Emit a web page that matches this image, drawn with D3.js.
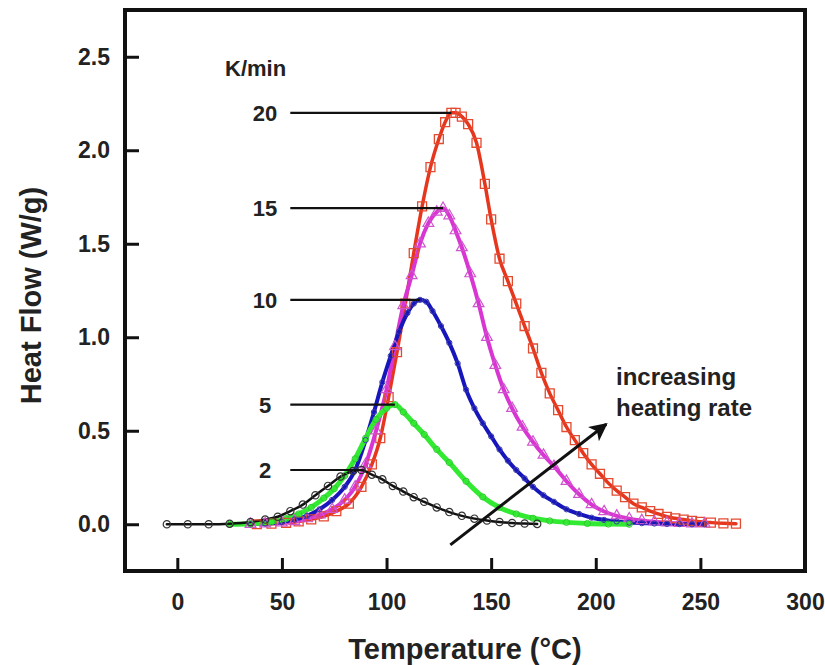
<!DOCTYPE html>
<html><head><meta charset="utf-8">
<script src="https://cdn.jsdelivr.net/npm/d3@7"></script>
<style>
html,body{margin:0;padding:0;background:#fff;}
text{font-family:Arial,"Liberation Sans",sans-serif;font-weight:bold;fill:#222;}
</style></head>
<body>
<svg id="chart" width="825" height="665"></svg>
<script>
// ---------- data ----------
const xTicks = [0, 50, 100, 150, 200, 250, 300];
const yTicks = [0.0, 0.5, 1.0, 1.5, 2.0, 2.5];
const rateLabels = ["20", "15", "10", "5", "2"];
const unitLabel = "K/min";
const xTitle = "Temperature (°C)";
const yTitle = "Heat Flow (W/g)";
const noteLines = ["increasing", "heating rate"];

// 2 K/min
const T2 = [-5,5,15,25,35,42,48,54,60,66,72,78,84,88,93,98,103,108,113,118,124,130,136,142,148,154,160,166,172];
const v2 = [0,0,0,0.003,0.012,0.025,0.04,0.07,0.105,0.155,0.205,0.255,0.285,0.29,0.265,0.24,0.205,0.175,0.145,0.12,0.09,0.065,0.045,0.03,0.02,0.012,0.007,0.004,0.002];
// 5 K/min
const T5 = [25,35,45,52,58,64,70,75,80,85,90,95,100,104,108,113,118,124,130,138,146,154,162,170,178,186,196,206,216];
const v5 = [0,0.003,0.012,0.03,0.055,0.09,0.14,0.19,0.26,0.35,0.46,0.56,0.62,0.64,0.6,0.54,0.48,0.40,0.33,0.23,0.146,0.09,0.055,0.032,0.018,0.01,0.004,0.001,0];
// 10 K/min
const T10 = [35,42,50,56,62,68,74,80,85,90,94,98,102,106,110,113,116,119,122,126,130,134,138,142,146,150,154,158,162,166,170,175,180,186,192,198,204,210,216,222,228,234,240,246,252];
const v10 = [0,0.004,0.012,0.025,0.045,0.08,0.13,0.2,0.29,0.45,0.6,0.76,0.9,1.03,1.13,1.18,1.2,1.19,1.14,1.06,0.97,0.86,0.72,0.62,0.54,0.47,0.40,0.34,0.29,0.245,0.2,0.155,0.12,0.08,0.055,0.035,0.023,0.015,0.009,0.006,0.004,0.002,0.001,0,0];
// 15 K/min
const T15 = [35,42,50,56,62,68,74,80,85,90,95,100,104,108,112,116,120,124,127,130,133,136,140,144,148,152,156,160,165,170,175,180,186,192,198,204,210,216,222,228,234,240,246,252];
const v15 = [0,0.003,0.008,0.015,0.03,0.05,0.08,0.13,0.2,0.32,0.5,0.72,0.95,1.17,1.33,1.5,1.61,1.67,1.69,1.65,1.57,1.48,1.34,1.18,1.0,0.85,0.72,0.62,0.52,0.44,0.37,0.31,0.23,0.16,0.105,0.068,0.045,0.03,0.02,0.013,0.008,0.005,0.003,0.002];
// 20 K/min
const T20 = [38,45,52,58,64,70,76,82,88,93,97,101,105,109,113,117,121,125,128,131,133,136,139,143,147,150,154,158,162,166,170,174,178,182,186,190,194,198,202,206,210,214,218,222,226,230,234,238,242,246,250,255,261,267];
const v20 = [0,0.003,0.008,0.015,0.026,0.042,0.07,0.11,0.2,0.32,0.46,0.68,0.92,1.18,1.45,1.70,1.91,2.06,2.15,2.2,2.2,2.18,2.14,2.04,1.82,1.63,1.42,1.30,1.18,1.06,0.94,0.81,0.70,0.61,0.52,0.45,0.38,0.32,0.27,0.22,0.18,0.145,0.11,0.09,0.07,0.055,0.04,0.032,0.025,0.018,0.013,0.009,0.005,0.003];

// arrow (data units)
const arrowT = [130.5, 205];
const arrowV = [-0.11, 0.535];

// ---------- layout ----------
const svg = d3.select("#chart");
const L = 125, R = 805, TOP = 10, B = 571;
const x = d3.scaleLinear().domain([-25, 300]).range([L, R]);
const y = d3.scaleLinear().domain([-0.25, 2.75]).range([B, TOP]);

const series = [
  {T:T20, v:v20, label:rateLabels[0], color:"#e6361e", mcolor:"#e44a30", width:3.5, sym:d3.symbolSquare,   size:80, mw:1.3},
  {T:T15, v:v15, label:rateLabels[1], color:"#d835d2", mcolor:"#cf55cf", width:4,   sym:d3.symbolTriangle, size:50, mw:1.2},
  {T:T10, v:v10, label:rateLabels[2], color:"#1616bc", mcolor:"#3a3aa8", width:4,   sym:d3.symbolCircle,   size:22, mw:1.0},
  {T:T5,  v:v5,  label:rateLabels[3], color:"#33ea33", mcolor:"#2fc82f", width:5,   sym:d3.symbolCircle,   size:30, mw:1.0},
  {T:T2,  v:v2,  label:rateLabels[4], color:"#111111", mcolor:"#333333", width:2.5, sym:d3.symbolCircle,   size:42, mw:1.2}
];

const line = d3.line().x(d => x(d[0])).y(d => y(d[1])).curve(d3.curveMonotoneX);

// curves
const gC = svg.append("g");
series.forEach(s => {
  const pts = s.T.map((t, i) => [t, s.v[i]]);
  gC.append("path").datum(pts).attr("d", line)
    .attr("fill", "none").attr("stroke", s.color).attr("stroke-width", s.width)
    .attr("stroke-linejoin", "round").attr("stroke-linecap", "round");
});
// markers
series.forEach(s => {
  const pts = s.T.map((t, i) => [t, s.v[i]]);
  gC.append("g").selectAll("path").data(pts).join("path")
    .attr("d", d3.symbol().type(s.sym).size(s.size))
    .attr("transform", d => `translate(${x(d[0])},${y(d[1])})`)
    .attr("fill", "none").attr("stroke", s.mcolor).attr("stroke-width", s.mw);
});

// rate labels with leader lines
const leadStartT = 54;
const gL = svg.append("g");
series.forEach(s => {
  const vmax = d3.max(s.v);
  const tmax = s.T[s.v.indexOf(vmax)];
  gL.append("line").attr("x1", x(leadStartT)).attr("x2", x(tmax))
    .attr("y1", y(vmax)).attr("y2", y(vmax)).attr("stroke", "#111").attr("stroke-width", 2.2);
  gL.append("text").attr("x", 265).attr("y", y(vmax) + 8).attr("text-anchor", "middle")
    .attr("font-size", 22).text(s.label);
});
gL.append("text").attr("x", 225).attr("y", 76).attr("font-size", 22).text(unitLabel);

// arrow
svg.append("defs").append("marker").attr("id", "ah").attr("viewBox", "0 0 10 10")
  .attr("refX", 9).attr("refY", 5).attr("markerWidth", 7).attr("markerHeight", 6)
  .attr("markerUnits", "strokeWidth").attr("orient", "auto")
  .append("path").attr("d", "M0,0 L10,5 L0,10 L2.5,5 Z").attr("fill", "#111");
svg.append("line").attr("x1", x(arrowT[0])).attr("y1", y(arrowV[0]))
  .attr("x2", x(arrowT[1])).attr("y2", y(arrowV[1]))
  .attr("stroke", "#111").attr("stroke-width", 3).attr("marker-end", "url(#ah)");
svg.append("text").attr("x", 616).attr("y", 385).attr("font-size", 24).text(noteLines[0]);
svg.append("text").attr("x", 616).attr("y", 416).attr("font-size", 24).text(noteLines[1]);

// axes
const gx = svg.append("g").attr("transform", `translate(0,${B})`)
  .call(d3.axisBottom(x).tickValues(xTicks).tickFormat(d3.format("d")).tickSizeInner(-13).tickSizeOuter(0).tickPadding(23));
const gy = svg.append("g").attr("transform", `translate(${L},0)`)
  .call(d3.axisLeft(y).tickValues(yTicks).tickFormat(d3.format(".1f")).tickSizeInner(-14).tickSizeOuter(0).tickPadding(15));
[gx, gy].forEach(g => {
  g.select(".domain").remove();
  g.selectAll(".tick line").attr("stroke", "#111").attr("stroke-width", 3);
  g.selectAll(".tick text").attr("font-size", 23).attr("fill", "#222")
    .style("font-family", 'Arial,"Liberation Sans",sans-serif').style("font-weight", "bold");
});
gx.selectAll(".tick").filter(d => d === 300).select("line").remove();

// frame
svg.append("rect").attr("x", L).attr("y", TOP).attr("width", R - L).attr("height", B - TOP)
  .attr("fill", "none").attr("stroke", "#111").attr("stroke-width", 4);

// titles
svg.append("text").attr("x", 465).attr("y", 659).attr("text-anchor", "middle")
  .attr("font-size", 29).text(xTitle);
svg.append("text").attr("transform", `translate(41,${(TOP + B) / 2 + 5}) rotate(-90)`)
  .attr("text-anchor", "middle").attr("font-size", 29).text(yTitle);
</script>
</body></html>
